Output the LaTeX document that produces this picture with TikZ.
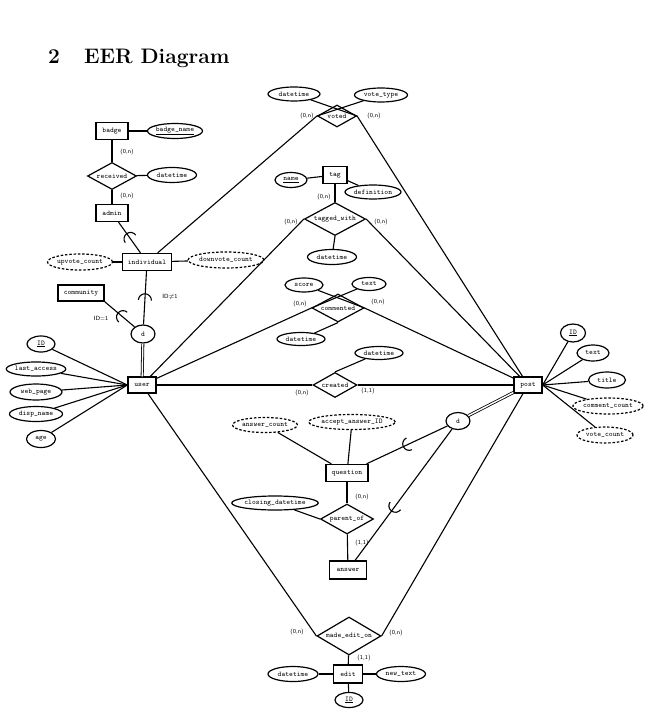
\documentclass[tikz,border=0pt]{standalone}
\usetikzlibrary{shapes.geometric,decorations.markings}
\begin{document}
\begin{tikzpicture}[x=1pt,y=-1pt,
  every node/.style={font=\fontsize{7.2}{8}\selectfont\ttfamily},
  ent/.style={draw,rectangle,line width=1.3pt,inner sep=0pt,minimum height=17pt},
  att/.style={draw,ellipse,line width=1.2pt,inner sep=0pt,minimum height=15pt},
  datt/.style={att,dash pattern=on 2.5pt off 1.8pt},
  rel/.style={draw,diamond,line width=1.2pt,inner sep=0pt,aspect=1.8},
  dcirc/.style={draw,ellipse,line width=1.2pt,inner sep=0pt,minimum width=24pt,minimum height=18pt},
  card/.style={font=\fontsize{6}{7}\selectfont\sffamily,inner sep=0pt},
  conn/.style={line width=1.1pt},
  dbl/.style={double,double distance=1.4pt,line width=0.8pt},
  subarc/.style={postaction={decorate},decoration={markings,mark=at position #1 with {\draw[line width=1.1pt] (2.5pt,6.5pt) arc[start angle=90,end angle=270,radius=6.5pt];}}}
]
\useasboundingbox (0,0) rectangle (651,719);
\node[anchor=base west,inner sep=0pt,font=\fontsize{21}{25}\selectfont\bfseries] (title) at (48,64) {2\hspace{1.15em}EER Diagram};

% top-left
\node[ent,minimum width=32pt] (badge) at (112,131) {badge};
\node[att,minimum width=55pt] (badgename) at (175,131) {\underline{badge\_name}};
\node[rel,minimum width=49pt,minimum height=27pt] (received) at (112,176) {received};
\node[att,minimum width=49pt] (rdt) at (172,175) {datetime};
\node[ent,minimum width=32pt] (admin) at (112,213) {admin};
\node[ent,minimum width=49pt] (individual) at (147,262) {individual};
\node[datt,minimum width=65pt,minimum height=16pt] (upvote) at (80,262) {upvote\_count};
\node[datt,minimum width=69pt,minimum height=16pt] (downvote) at (226,260) {downvote\_count};
\node[ent,minimum width=46pt,minimum height=16pt] (community) at (81,293) {community};
\node[dcirc] (d1) at (143,334) {d};
\node[ent,minimum width=28pt,minimum height=16pt] (user) at (142,385) {user};
\node[att,minimum width=28pt,minimum height=16pt] (uid) at (41,344) {\underline{ID}};
\node[att,minimum width=59pt,minimum height=14pt] (lastaccess) at (36,369) {last\_access};
\node[att,minimum width=52pt,minimum height=16pt] (webpage) at (36,392) {web\_page};
\node[att,minimum width=53pt,minimum height=15pt] (dispname) at (36,414) {disp\_name};
\node[att,minimum width=29pt,minimum height=17pt] (age) at (41,439) {age};

% voted
\node[rel,minimum width=39pt,minimum height=22pt] (voted) at (337,116) {voted};
\node[att,minimum width=52pt,minimum height=14pt] (vdt) at (294,94) {datetime};
\node[att,minimum width=53pt,minimum height=14pt] (votetype) at (381,95) {vote\_type};

% tag
\node[ent,minimum width=24pt] (tag) at (335,175) {tag};
\node[att,minimum width=32pt,minimum height=15pt] (name) at (291,180) {\underline{name}};
\node[att,minimum width=56pt,minimum height=14pt] (definition) at (373,192) {definition};
\node[rel,minimum width=61pt,minimum height=33pt] (tagged) at (335,219) {tagged\_with};
\node[att,minimum width=49pt,minimum height=15pt] (tdt) at (332,257) {datetime};

% commented
\node[rel,minimum width=52pt,minimum height=28pt] (commented) at (338,308) {commented};
\node[att,minimum width=38pt,minimum height=14pt] (score) at (304,285) {score};
\node[att,minimum width=34pt,minimum height=13pt] (ctext) at (369,284) {text};
\node[att,minimum width=48pt,minimum height=13pt] (cdt) at (301,339) {datetime};

% created
\node[rel,minimum width=44pt,minimum height=25pt] (created) at (335,385) {created};
\node[att,minimum width=48pt,minimum height=13pt] (crdt) at (379,353) {datetime};

% post
\node[ent,minimum width=28pt,minimum height=16pt] (post) at (528,385) {post};
\node[att,minimum width=25pt,minimum height=18pt] (pid) at (573,333) {\underline{ID}};
\node[att,minimum width=32pt,minimum height=16pt] (ptext) at (593,353) {text};
\node[att,minimum width=37pt,minimum height=16pt] (title2) at (607,380) {title};
\node[datt,minimum width=67pt,minimum height=16pt] (commentcount) at (608,406) {comment\_count};
\node[datt,minimum width=56pt,minimum height=16pt] (votecount) at (605,435) {vote\_count};

% question / answer
\node[dcirc,minimum width=24pt,minimum height=17pt] (d2) at (458,421) {d};
\node[ent,minimum width=42pt] (question) at (347,473) {question};
\node[datt,minimum width=64pt,minimum height=15pt] (answercount) at (265,425) {answer\_count};
\node[datt,minimum width=78pt,minimum height=15pt] (accept) at (352,422) {accept\_answer\_ID};
\node[rel,minimum width=53pt,minimum height=30pt] (parent) at (347,519) {parent\_of};
\node[att,minimum width=77pt,minimum height=14pt] (closing) at (275,503) {closing\_datetime};
\node[ent,minimum width=37pt,minimum height=18pt] (answer) at (348,570) {answer};

% edit
\node[rel,minimum width=64pt,minimum height=38pt] (madeedit) at (349,636) {made\_edit\_on};
\node[ent,minimum width=29pt,minimum height=18pt] (edit) at (348,674) {edit};
\node[att,minimum width=50pt,minimum height=15pt] (edt) at (293,674) {datetime};
\node[att,minimum width=49pt,minimum height=15pt] (newtext) at (401,674) {new\_text};
\node[att,minimum width=28pt,minimum height=15pt] (eid) at (349,700) {\underline{ID}};

% connectors
\draw[conn] (badge) -- (badgename);
\draw[conn] (badge) -- (received);
\draw[conn] (received) -- (rdt);
\draw[conn] (received) -- (admin);
\draw[conn,subarc=0.48] (admin) -- (individual);
\draw[conn] (upvote) -- (individual);
\draw[conn] (individual) -- (downvote);
\draw[conn,subarc=0.5] (individual) -- (d1);
\draw[conn,subarc=0.55] (community.south east) -- (d1);
\draw[dbl] (d1) -- (user);
\draw[conn] (uid) -- (user.west);
\draw[conn] (lastaccess) -- (user.west);
\draw[conn] (webpage) -- (user.west);
\draw[conn] (dispname) -- (user.west);
\draw[conn] (age) -- (user.west);

\draw[conn] (individual) -- (voted.west);
\draw[conn] (voted.east) -- (post);
\draw[conn] (vdt) -- (voted.east);
\draw[conn] (votetype) -- (voted.west);

\draw[conn] (tag) -- (name);
\draw[conn] (tag) -- (definition);
\draw[conn] (tag) -- (tagged);
\draw[conn] (tagged.south) -- (tdt);
\draw[conn] (user) -- (tagged.west);
\draw[conn] (tagged.east) -- (post);

\draw[conn] (user) -- (commented.west);
\draw[conn] (commented.east) -- (post);
\draw[conn] (score) -- (commented.east);
\draw[conn] (ctext) -- (commented.west);
\draw[conn] (cdt) -- (commented.south);

\draw[conn] (user) -- (created);
\draw[conn] (created) -- (post);
\draw[conn] (crdt) -- (created.north);

\draw[conn] (pid) -- (post.east);
\draw[conn] (ptext) -- (post.east);
\draw[conn] (title2) -- (post.east);
\draw[conn] (commentcount) -- (post.east);
\draw[conn] (votecount) -- (post.east);

\draw[dbl] (d2) -- (post);
\draw[conn,subarc=0.5] (question) -- (d2);
\draw[conn,subarc=0.4] (answer) -- (d2);
\draw[conn] (answercount) -- (question);
\draw[conn] (accept) -- (question);
\draw[conn] (question) -- (parent);
\draw[conn] (parent) -- (answer);
\draw[conn] (closing) -- (parent.west);

\draw[conn] (user) -- (madeedit.west);
\draw[conn] (post) -- (madeedit.east);
\draw[conn] (madeedit) -- (edit);
\draw[conn] (edt) -- (edit);
\draw[conn] (edit) -- (newtext);
\draw[conn] (edit) -- (eid);

% cardinalities
\node[card] (c1) at (127,152) {(0,n)};
\node[card] (c2) at (127,196) {(0,n)};
\node[card] (c3) at (307,116) {(0,n)};
\node[card] (c4) at (374,116) {(0,n)};
\node[card] (c5) at (324,197) {(0,n)};
\node[card] (c6) at (291,222) {(0,n)};
\node[card] (c7) at (381,222) {(0,n)};
\node[card] (c8) at (300,304) {(0,n)};
\node[card] (c9) at (378,302) {(0,n)};
\node[card] (c10) at (302,393) {(0,n)};
\node[card] (c11) at (368,391) {(1,1)};
\node[card] (c12) at (362,497) {(0,n)};
\node[card] (c13) at (362,543) {(1,1)};
\node[card] (c14) at (297,632) {(0,n)};
\node[card] (c15) at (396,633) {(0,n)};
\node[card] (c16) at (364,658) {(1,1)};
\node[card] (l1) at (170,297) {ID$\neq$1};
\node[card] (l2) at (101,318) {ID=1};
\end{tikzpicture}
\end{document}
